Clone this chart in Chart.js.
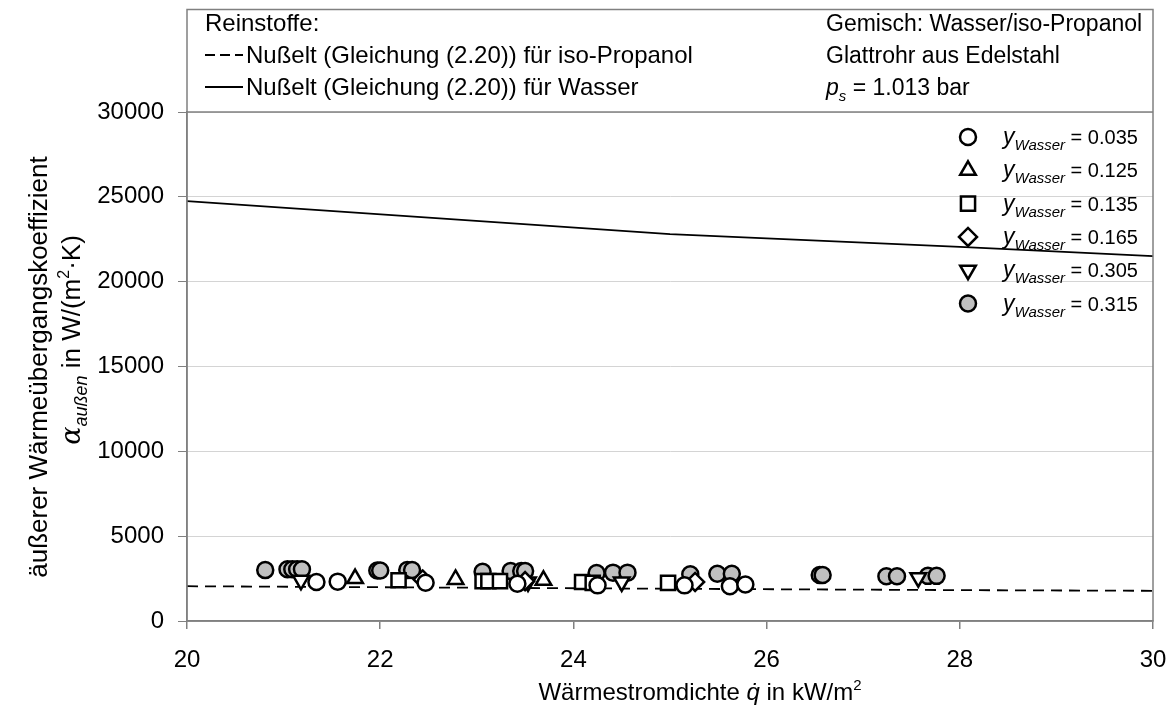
<!DOCTYPE html>
<html>
<head>
<meta charset="utf-8">
<script src="https://cdn.jsdelivr.net/npm/chart.js"></script>
<style>
  html, body { margin: 0; padding: 0; background: #fff; }
</style>
</head>
<body>
<canvas id="myChart" width="1171" height="711"></canvas>
<script>
// heat flux q in kW/m2 and outer heat transfer coefficient in W/(m2 K)
var q035 = [21.34, 21.56, 22.47, 23.42, 24.25, 25.15, 25.62, 25.78];
var a035 = [2300, 2320, 2250, 2200, 2100, 2100, 2050, 2150];

var q125 = [21.74, 22.78, 23.69];
var a125 = [2500, 2450, 2400];

var q135 = [22.19, 23.06, 23.12, 23.24, 24.09, 24.20, 24.98];
var a135 = [2400, 2350, 2350, 2350, 2300, 2250, 2250];

var q165 = [22.44, 23.50, 25.26];
var a165 = [2450, 2350, 2300];

var q305 = [21.18, 23.53, 24.50, 27.57];
var a305 = [2400, 2300, 2300, 2550];

var q315 = [20.81, 21.04, 21.09, 21.14, 21.19, 21.97, 22.00, 22.28, 22.33, 23.06, 23.35, 23.46, 23.50,
            24.24, 24.41, 24.56, 25.21, 25.49, 25.64, 26.55, 26.58, 27.24, 27.35, 27.67, 27.76];
var a315 = [3000, 3050, 3050, 3050, 3050, 2980, 2980, 3000, 3000, 2900, 2950, 2950, 2950,
            2830, 2850, 2850, 2750, 2780, 2780, 2710, 2710, 2640, 2640, 2660, 2660];

// Nusselt lines for the pure substances
var nusseltQ = [20, 25, 28, 30];
var nusseltWasser = [24750, 22800, 22050, 21500];
var nusseltIsoPropanol = [2050, 1900, 1820, 1780];

var yTicks = [0, 5000, 10000, 15000, 20000, 25000, 30000];
var xTicks = [20, 22, 24, 26, 28, 30];

var mixLabels = ["0.035", "0.125", "0.135", "0.165", "0.305", "0.315"];

var FONT = '"Liberation Sans", Arial, sans-serif';

function toPoints(xs, ys) {
  return xs.map(function (x, i) { return { x: x, y: ys[i] }; });
}

var markerStyles = [
  { style: "circle",   rotation: 0,   radius: 8, fill: "#fff" },
  { style: "triangle", rotation: 0,   radius: 9, fill: "#fff" },
  { style: "rect",     rotation: 0,   radius: 10, fill: "#fff" },
  { style: "rectRot",  rotation: 0,   radius: 9, fill: "#fff" },
  { style: "triangle", rotation: 180, radius: 9, fill: "#fff" },
  { style: "circle",   rotation: 0,   radius: 8, fill: "#c0c0c0" }
];

var seriesX = [q035, q125, q135, q165, q305, q315];
var seriesY = [a035, a125, a135, a165, a305, a315];

var datasets = [];
// gray circles end up on top
for (var i = seriesX.length - 1; i >= 0; i--) {
  var m = markerStyles[i];
  datasets.push({
    type: "scatter",
    label: "y " + mixLabels[i],
    data: toPoints(seriesX[i], seriesY[i]),
    pointStyle: m.style,
    rotation: m.rotation,
    pointRadius: m.radius,
    pointBackgroundColor: m.fill,
    pointBorderColor: "#000",
    pointBorderWidth: 2.5,
    order: i
  });
}
datasets.push({
  type: "line",
  label: "Nußelt Wasser",
  data: toPoints(nusseltQ, nusseltWasser),
  borderColor: "#000",
  borderWidth: 1.8,
  pointRadius: 0,
  fill: false,
  order: 10
});
datasets.push({
  type: "line",
  label: "Nußelt iso-Propanol",
  data: toPoints(nusseltQ, nusseltIsoPropanol),
  borderColor: "#000",
  borderWidth: 1.8,
  borderDash: [11, 7],
  pointRadius: 0,
  fill: false,
  order: 11
});

// draws mixed-font text runs: [text, font, dy]
function drawRuns(ctx, parts, x, y, align) {
  var total = 0;
  parts.forEach(function (p) { ctx.font = p[1]; total += ctx.measureText(p[0]).width; });
  var cx = align === "center" ? x - total / 2 : x;
  parts.forEach(function (p) {
    ctx.font = p[1];
    ctx.fillText(p[0], cx, y + (p[2] || 0));
    cx += ctx.measureText(p[0]).width;
  });
}

var framePlugin = {
  id: "framePlugin",
  afterDraw: function (chart) {
    var ctx = chart.ctx;
    var ca = chart.chartArea;
    ctx.save();

    // outer frame including the text box above the plot
    ctx.strokeStyle = "#808080";
    ctx.lineWidth = 1.5;
    ctx.strokeRect(ca.left, 9.5, ca.right - ca.left, ca.bottom - 9.5);
    ctx.beginPath();
    ctx.moveTo(ca.left, ca.top);
    ctx.lineTo(ca.right, ca.top);
    ctx.stroke();

    ctx.fillStyle = "#000";
    ctx.textBaseline = "alphabetic";
    ctx.textAlign = "left";

    var fLeft = "24px " + FONT;
    ctx.font = fLeft;
    ctx.fillText("Reinstoffe:", 205, 31);
    ctx.fillText("Nußelt (Gleichung (2.20)) für iso-Propanol", 246, 63);
    ctx.fillText("Nußelt (Gleichung (2.20)) für Wasser", 246, 95);

    ctx.strokeStyle = "#000";
    ctx.lineWidth = 1.8;
    ctx.setLineDash([10, 5]);
    ctx.beginPath();
    ctx.moveTo(205, 55);
    ctx.lineTo(243, 55);
    ctx.stroke();
    ctx.setLineDash([]);
    ctx.beginPath();
    ctx.moveTo(205, 87);
    ctx.lineTo(243, 87);
    ctx.stroke();

    var fRight = "23px " + FONT;
    ctx.font = fRight;
    ctx.fillText("Gemisch: Wasser/iso-Propanol", 826, 31);
    ctx.fillText("Glattrohr aus Edelstahl", 826, 63);
    drawRuns(ctx, [
      ["p", "italic 23px " + FONT, 0],
      ["s", "italic 15px " + FONT, 6],
      [" = 1.013 bar", fRight, 0]
    ], 826, 95, "left");

    // marker legend
    for (var i = 0; i < mixLabels.length; i++) {
      var m = markerStyles[i];
      var ly = 137 + i * 33.3;
      ctx.fillStyle = m.fill;
      ctx.strokeStyle = "#000";
      ctx.lineWidth = 2.5;
      Chart.helpers.drawPoint(ctx, { pointStyle: m.style, rotation: m.rotation, radius: m.radius, borderWidth: 2.5 }, 968, ly);
      ctx.fillStyle = "#000";
      drawRuns(ctx, [
        ["y", "italic 23px " + FONT, 0],
        ["Wasser", "italic 15px " + FONT, 6],
        [" = " + mixLabels[i], "20px " + FONT, 0]
      ], 1003, ly + 7, "left");
    }

    // axis titles
    ctx.fillStyle = "#000";
    drawRuns(ctx, [
      ["Wärmestromdichte ", "24px " + FONT, 0],
      ["q\u0307", "italic 24px " + FONT, 0],
      [" in kW/m", "24px " + FONT, 0],
      ["2", "15px " + FONT, -10]
    ], 700, 700, "center");

    ctx.save();
    ctx.translate(47, 367);
    ctx.rotate(-Math.PI / 2);
    drawRuns(ctx, [["äußerer Wärmeübergangskoeffizient", "26px " + FONT, 0]], 0, 0, "center");
    ctx.restore();
    ctx.save();
    ctx.translate(80, 340);
    ctx.rotate(-Math.PI / 2);
    drawRuns(ctx, [
      ["\u03B1", "italic 27px \"DejaVu Serif\", serif", 0],
      ["außen", "italic 18px " + FONT, 7],
      [" in W/(m", "26px " + FONT, 0],
      ["2", "16px " + FONT, -11],
      ["\u00B7K)", "26px " + FONT, 0]
    ], 0, 0, "center");
    ctx.restore();

    ctx.restore();
  }
};

new Chart("myChart", {
  type: "scatter",
  data: { datasets: datasets },
  options: {
    responsive: false,
    animation: false,
    devicePixelRatio: 1,
    layout: { padding: { top: 112, right: 18, left: 0, bottom: 0 } },
    plugins: {
      legend: { display: false },
      tooltip: { enabled: false }
    },
    scales: {
      x: {
        type: "linear",
        min: 20,
        max: 30,
        afterFit: function (scale) {
          scale.height = 90;
          scale.paddingLeft = 0;
          scale.paddingRight = 0;
        },
        afterBuildTicks: function (scale) {
          scale.ticks = xTicks.map(function (v) { return { value: v }; });
        },
        ticks: {
          callback: function (v) { return String(v); },
          color: "#000",
          font: { family: FONT, size: 24 },
          padding: 17,
          maxRotation: 0
        },
        grid: {
          drawOnChartArea: false,
          color: "#808080",
          tickColor: "#808080",
          tickLength: 8,
          lineWidth: 1.5
        },
        border: { color: "#808080", width: 1.5 }
      },
      y: {
        type: "linear",
        min: 0,
        max: 30000,
        afterFit: function (scale) {
          scale.width = 187;
          scale.paddingTop = 0;
          scale.paddingBottom = 0;
        },
        afterBuildTicks: function (scale) {
          scale.ticks = yTicks.map(function (v) { return { value: v }; });
        },
        ticks: {
          callback: function (v) { return String(v); },
          color: "#000",
          font: { family: FONT, size: 24 },
          padding: 14
        },
        grid: {
          color: "#d4d4d4",
          tickColor: "#808080",
          tickLength: 9,
          lineWidth: 1
        },
        border: { color: "#808080", width: 1.5 }
      }
    }
  },
  plugins: [framePlugin]
});
</script>
</body>
</html>
